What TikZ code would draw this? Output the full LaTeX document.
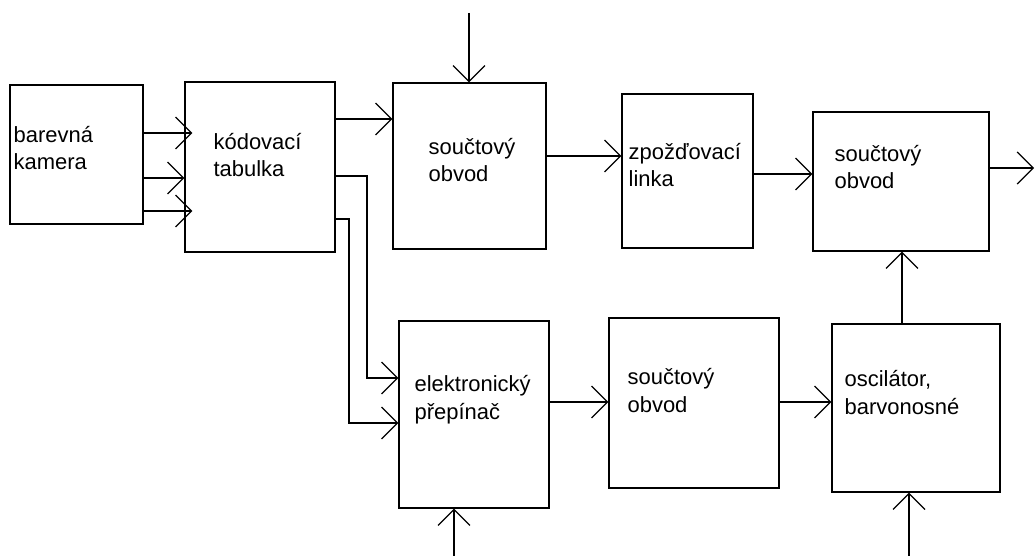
\documentclass[tikz,border=0pt]{standalone}
\usepackage{fontspec}
\setmainfont{Liberation Sans}
\usetikzlibrary{arrows.meta}

\begin{document}
\begin{tikzpicture}[
    >={Straight Barb[length=3.2mm, width=6.4mm]},
    line width=0.7pt,
    font=\fontsize{12.5}{15.4}\selectfont,
    block/.style 2 args={draw, line width=0.7pt, minimum width=#1, minimum height=#2, inner sep=0pt},
    label/.style={anchor=base west, align=left, inner sep=0pt}
]
    \useasboundingbox (0,0) rectangle (20.70,-11.12);

    % Blocks, upper row
    \node[block={2.66cm}{2.78cm}] (kamera) at (1.53,-3.09) {};
    \node[block={3.00cm}{3.40cm}] (tabulka) at (5.20,-3.34) {};
    \node[block={3.06cm}{3.32cm}] (soucet1) at (9.39,-3.32) {};
    \node[block={2.62cm}{3.08cm}] (linka) at (13.75,-3.42) {};
    \node[block={3.52cm}{2.78cm}] (soucet2) at (18.02,-3.63) {};

    % Blocks, lower row
    \node[block={3.00cm}{3.74cm}] (prepinac) at (9.48,-8.29) {};
    \node[block={3.40cm}{3.40cm}] (soucet3) at (13.88,-8.06) {};
    \node[block={3.36cm}{3.36cm}] (oscilator) at (18.32,-8.16) {};

    % Texts (anchored at the baseline of the last line)
    \node[label] (kameratxt) at (0.26,-3.40) {barevná\\kamera};
    \node[label] (tabulkatxt) at (4.26,-3.54) {kódovací\\tabulka};
    \node[label] (soucet1txt) at (8.56,-3.64) {součtový\\obvod};
    \node[label] (linkatxt) at (12.56,-3.74) {zpožďovací\\linka};
    \node[label] (soucet2txt) at (16.68,-3.78) {součtový\\obvod};
    \node[label] (prepinactxt) at (8.28,-8.38) {elektronický\\přepínač};
    \node[label] (soucet3txt) at (12.54,-8.24) {součtový\\obvod};
    \node[label] (oscilatortxt) at (16.88,-8.28) {oscilátor,\\barvonosné};

    % Free ends
    \coordinate (in1) at (9.38,-0.26);
    \coordinate (in2) at (9.08,-11.12);
    \coordinate (in3) at (18.18,-11.12);
    \coordinate (out) at (20.68,-3.36);

    % Camera to coding table
    \draw[->, shorten >=-1.6mm] (kamera.east |- 0,-2.66) -- (tabulka.west |- 0,-2.66);
    \draw[->] (kamera.east |- 0,-3.56) -- (tabulka.west |- 0,-3.56);
    \draw[->, shorten >=-1.6mm] (kamera.east |- 0,-4.22) -- (tabulka.west |- 0,-4.22);

    % Upper path
    \draw[->] (tabulka.east |- 0,-2.38) -- (soucet1.west |- 0,-2.38);
    \draw[->] (in1) -- (in1 |- soucet1.north);
    \draw[->] (soucet1.east |- 0,-3.12) -- (linka.west |- 0,-3.12);
    \draw[->] (linka.east |- 0,-3.48) -- (soucet2.west |- 0,-3.48);
    \draw[->] (soucet2.east |- out) -- (out);

    % Coding table to switch
    \draw[->] (tabulka.east |- 0,-3.52) -| (7.34,-7.56) -- (prepinac.west |- 0,-7.56);
    \draw[->] (tabulka.east |- 0,-4.38) -| (6.98,-8.46) -- (prepinac.west |- 0,-8.46);

    % Lower path
    \draw[->] (in2) -- (in2 |- prepinac.south);
    \draw[->] (prepinac.east |- 0,-8.04) -- (soucet3.west |- 0,-8.04);
    \draw[->] (soucet3.east |- 0,-8.04) -- (oscilator.west |- 0,-8.04);
    \draw[->] (in3) -- (in3 |- oscilator.south);
    \draw[->] (oscilator.north -| 18.04,0) -- (soucet2.south -| 18.04,0);

\end{tikzpicture}
\end{document}
